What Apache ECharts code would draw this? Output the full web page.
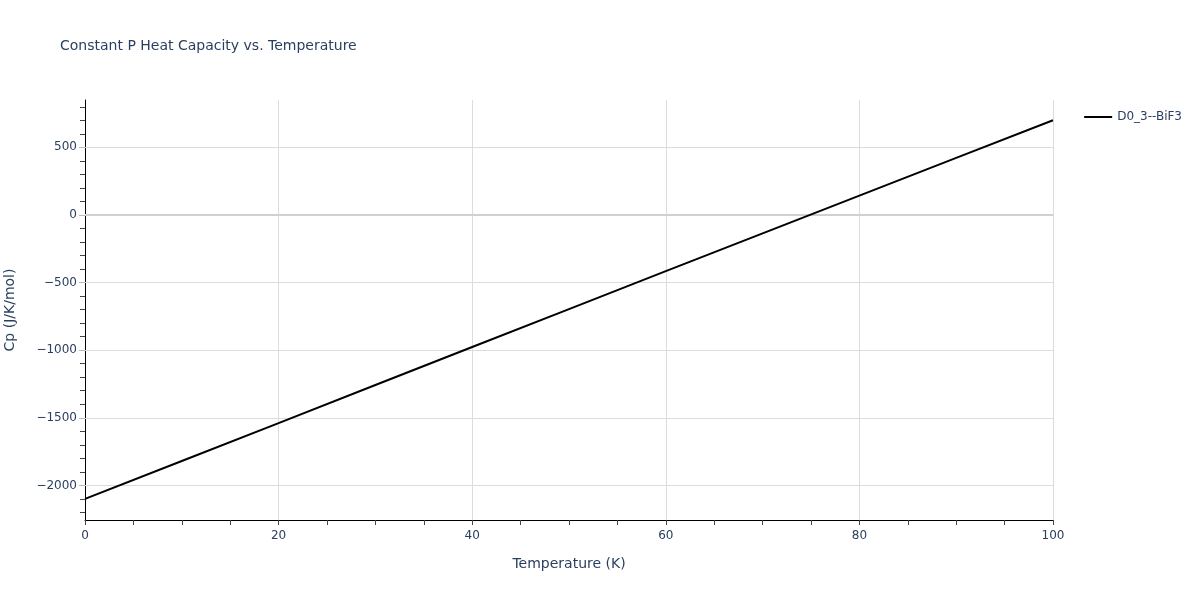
<!DOCTYPE html>
<html><head><meta charset="utf-8">
<script src="https://cdn.jsdelivr.net/npm/echarts@6/dist/echarts.min.js"></script>
<style>html,body{margin:0;padding:0;background:#fff}#c{width:1200px;height:600px}</style>
</head><body><div id="c"></div>
<script>
const temperatures = [0, 10, 20, 30, 40, 50, 60, 70, 80, 90, 100];
const cpValues = [-2100, -1820, -1540, -1258, -977, -697, -416, -136, 143, 422, 700];
const yLabelTicks = [-2000, -1500, -1000, -500, 0, 500];
const yMinorTicks = [];
for (let v = -2200; v <= 800; v += 100) yMinorTicks.push(v);
const seriesName = 'D0_3--BiF3';

const txt = '#2a3f5f';
const font = '"DejaVu Sans", Verdana, sans-serif';
const chart = echarts.init(document.getElementById('c'), null, {renderer: 'canvas'});
chart.setOption({
  backgroundColor: '#fff',
  animation: false,
  title: {text: 'Constant P Heat Capacity vs. Temperature', left: 55, top: 34,
    textStyle: {color: txt, fontSize: 14, fontWeight: 'normal', fontFamily: font}},
  legend: {right: 13, top: 106, itemWidth: 28, itemHeight: 2, itemGap: 6,
    icon: 'rect', textStyle: {color: txt, fontSize: 12, fontFamily: font},
    data: [{name: seriesName}]},
  grid: {left: 85, right: 147, top: 100, bottom: 80, outerBoundsMode: 'none', containLabel: false},
  xAxis: [{
    type: 'value', min: 0, max: 100, interval: 20,
    name: 'Temperature (K)', nameLocation: 'middle', nameGap: 37,
    nameTextStyle: {color: txt, fontSize: 14, fontFamily: font},
    axisLine: {show: true, onZero: false, lineStyle: {color: '#000', width: 1}},
    axisTick: {show: true, length: 5, lineStyle: {color: '#444'}},
    minorTick: {show: true, splitNumber: 4, length: 5, lineStyle: {color: '#444'}},
    axisLabel: {color: txt, fontSize: 12, fontFamily: font, margin: 10},
    splitLine: {show: true, lineStyle: {color: '#dcdcdc', width: 1}}
  }],
  yAxis: [{
    type: 'value', min: -2256, max: 850,
    name: 'Cp (J/K/mol)', nameLocation: 'middle', nameGap: 68,
    nameTextStyle: {color: txt, fontSize: 14, fontFamily: font},
    axisLine: {show: true, lineStyle: {color: '#000', width: 1}},
    axisTick: {show: true, length: 6, customValues: yLabelTicks, lineStyle: {color: '#bbb'}},
    axisLabel: {color: txt, fontSize: 12, fontFamily: font, margin: 8, customValues: yLabelTicks,
      formatter: v => String(v).replace('-', '\u2212')},
    splitLine: {show: false}
  }, {
    type: 'value', min: -2256, max: 850, position: 'left', offset: 0,
    axisLine: {show: false},
    axisTick: {show: true, length: 5, customValues: yMinorTicks.filter(v => yLabelTicks.indexOf(v) < 0), lineStyle: {color: '#444'}},
    axisLabel: {show: false},
    splitLine: {show: false}
  }],
  series: [{
    name: seriesName, type: 'line', showSymbol: false, symbol: 'none',
    data: temperatures.map((t, i) => [t, cpValues[i]]),
    lineStyle: {color: '#000', width: 2}, itemStyle: {color: '#000'},
    z: 5,
    markLine: {silent: true, symbol: 'none', label: {show: false}, animation: false,
      data: yLabelTicks.filter(v => v !== 0).map(v => ({yAxis: v, lineStyle: {color: '#dcdcdc', width: 1, type: 'solid'}}))
        .concat([{yAxis: 0, lineStyle: {color: '#d0d0d0', width: 2, type: 'solid'}}])}
  }]
});
</script></body></html>
